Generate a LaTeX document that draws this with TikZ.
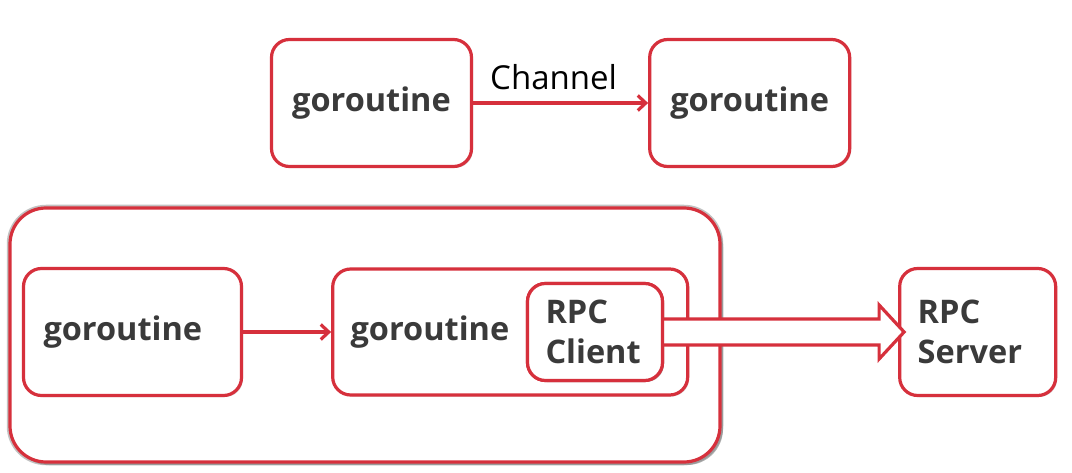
\documentclass[tikz,border=0pt]{standalone}
\usepackage{fontspec}
\setmainfont{Open Sans}
\usepackage{tikz}
\usetikzlibrary{positioning, calc, shadows, arrows.meta}
\definecolor{gored}{RGB}{214,48,60}
\definecolor{gotext}{RGB}{58,58,58}

\begin{document}
\begin{tikzpicture}[
          x=1pt, y=-1pt,
          node distance=175pt,
          every node/.style={font=\fontsize{32.5}{40}\selectfont\bfseries, text=gotext},
          box/.style={draw=gored, line width=3.2pt, fill=white, rounded corners=18pt,
                      minimum height=127pt, align=left,
                      drop shadow={shadow xshift=1.5pt, shadow yshift=-1.5pt, opacity=.3}},
          bigbox/.style={draw=gored, line width=3.2pt, fill=white, rounded corners=36pt,
                      minimum width=710pt, minimum height=254pt,
                      preaction={draw=black!40, line width=6.5pt, opacity=.6},
                      drop shadow={shadow xshift=3pt, shadow yshift=-3pt, opacity=.6}},
          arrow/.style={-{Straight Barb[length=8pt, width=15pt]}, draw=gored, line width=3.2pt},
          hollow/.style={draw=gored, line width=3.2pt, fill=white, line join=miter}
      ]
      \useasboundingbox (0,0) rectangle (1072,473);

      % Nodes
      \node[box, minimum width=200pt] (g1) at (371.5,103) {goroutine};
      \node[box, minimum width=200pt, right=of g1] (g2) {goroutine};

      \node[bigbox] (outer) at (365,335) {};
      \node[box, minimum width=218pt, text width=178pt, inner xsep=20pt] (g3) at (132.5,332) {goroutine};
      \node[box, minimum width=355pt, minimum height=126pt, right=88pt of g3] (g4) {};
      \node[right=16pt of g4.west] (g4txt) {goroutine};
      \node[box, minimum width=135pt, minimum height=97pt, text width=99pt, inner xsep=18pt] (client) at (595,332) {RPC\\Client};
      \node[box, minimum width=156pt, text width=120pt, inner xsep=18pt, right=234pt of client] (server) {RPC\\Server};

      % Arrows
      \draw[arrow] (g1) -- node[above=8pt, xshift=-7pt, font=\fontsize{33}{38}\selectfont, text=black] (chan) {Channel} (g2);
      \draw[arrow] (g3) -- (g4);
      \draw[hollow] ($(client.east)+(0,-13)$) -- ($(server.west)+(-19,-13)$) -- ($(server.west)+(-19,-27)$)
            -- ($(server.west)+(6,0)$) -- ($(server.west)+(-19,27)$) -- ($(server.west)+(-19,13)$)
            -- ($(client.east)+(0,13)$);
      \node[box, minimum width=135pt, minimum height=97pt, text width=99pt, inner xsep=18pt] at (client) {RPC\\Client};

      \end{tikzpicture}
\end{document}
